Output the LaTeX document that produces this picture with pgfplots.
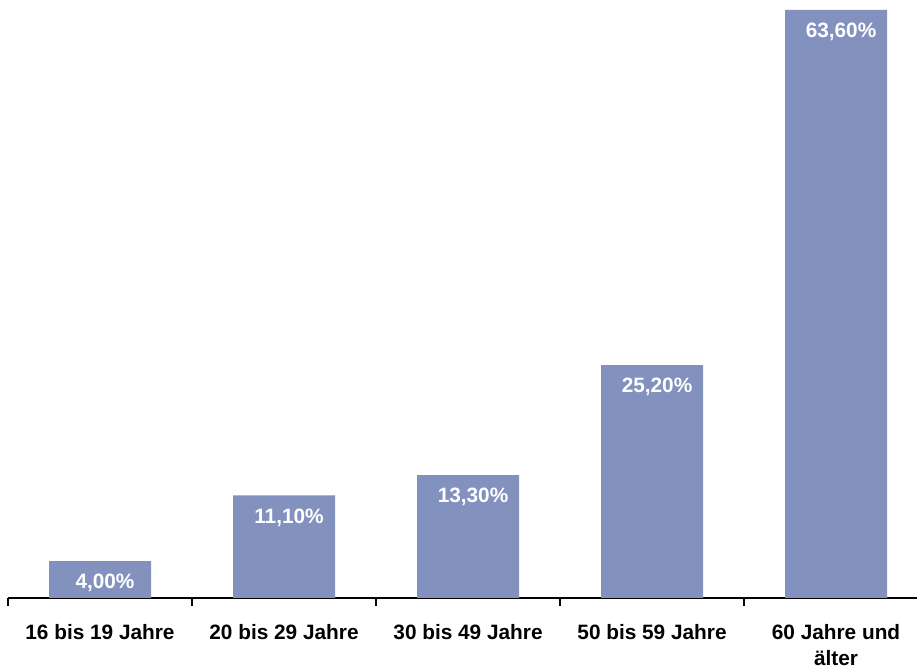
\documentclass[border=0pt]{standalone}
\usepackage{pgfplots}
\pgfplotsset{compat=1.18}
\usepackage{fontspec}
\setmainfont{Liberation Sans}
\definecolor{barblue}{RGB}{130,145,189}
\begin{document}
\begin{tikzpicture}
\fontsize{20.8}{26}\selectfont
\begin{axis}[
  scale only axis,
  width=909pt, height=588pt,
  xmin=-0.5, xmax=4.44,
  ymin=0, ymax=63.6,
  clip=false,
  axis y line=none,
  axis x line*=bottom,
  x axis line style={-, line width=1.2pt, black},
  xtick={0,1,2,3,4},
  xticklabels={16 bis 19 Jahre,20 bis 29 Jahre,30 bis 49 Jahre,50 bis 59 Jahre,{60 Jahre und\\älter}},
  xticklabel style={align=center, font=\bfseries\fontsize{20.8}{26}\selectfont, yshift=-19pt},
  major tick length=0pt,
  minor xtick={-0.5,0.5,1.5,2.5,3.5},
  minor tick length=8pt,
  tick align=outside,
  minor tick style={line width=1.2pt, black},
  ybar, bar width=102pt,
  nodes near coords={\pgfmathprintnumber[fixed,fixed zerofill,precision=2,use comma,assume math mode=true]{\pgfplotspointmeta}\%},
  every node near coord/.append style={anchor=center, yshift=-22pt, xshift=5pt, text=white, font=\bfseries\fontsize{20.8}{26}\selectfont},
]
\addplot[fill=barblue, draw=none] coordinates {(0,4.0) (1,11.1) (2,13.3) (3,25.2) (4,63.6)};
\coordinate (sw) at (rel axis cs:0,0);
\coordinate (ne) at (rel axis cs:1,1);
\end{axis}
\pgfresetboundingbox
\path[use as bounding box] ([xshift=-8pt,yshift=-71pt]sw) rectangle ([yshift=10pt]ne);
\end{tikzpicture}
\end{document}
